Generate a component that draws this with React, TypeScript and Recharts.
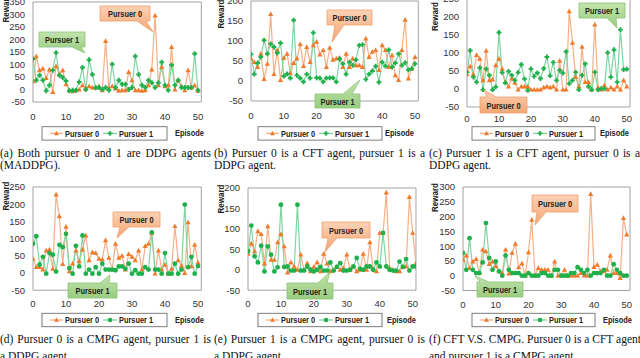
import React from "react";
import { LineChart, Line, XAxis, YAxis, ReferenceArea } from "recharts";

// episodes on the x axis (panel e runs one step longer)
const EPISODES = [
  0, 1, 2, 3, 4, 5, 6, 7, 8, 9, 10, 11, 12, 13, 14, 15, 16, 17, 18, 19, 20, 21, 22, 23, 24, 25,
  26, 27, 28, 29, 30, 31, 32, 33, 34, 35, 36, 37, 38, 39, 40, 41, 42, 43, 44, 45, 46, 47, 48, 49, 50, 51,
];
const X_TICKS = [0, 10, 20, 30, 40, 50];

// (a) DDPG vs DDPG
const A_P0 = [33, 133, 77, 84, 46, 80, -10, 93, 61, 77, 21, -3, -7, -3, 0, 17, 4, 13, 8, 8, 13, -3, 194, 4, 13, 4, -5, -3, -3, 70, 37, -3, -3, -5, -3, 17, 80, 296, 17, 90, 13, 17, 170, 0, 37, 13, -3, 77, 8, 17, -5];
const A_P1 = [122, 37, 57, 37, -5, 17, 77, 147, 57, 48, 34, -5, -3, -3, 30, 88, 0, 119, 60, 7, 8, 0, 8, -3, 101, 8, 37, 21, 21, 0, 8, 133, 60, 17, 8, 37, 27, 8, 27, 109, 17, -3, 98, 17, 37, 8, 8, 8, 8, 143, -3];
const A_YTICKS = [-50, 0, 50, 100, 150, 200, 250, 300, 350];

// (b) CFT vs DDPG
const B_P0 = [56, 47, 35, 68, 5, 43, 167, 17, 77, 2, 58, 68, 20, 45, 56, 92, 37, 85, 47, 89, 98, 66, 77, 35, 83, 53, 56, 58, 35, 68, 35, 56, 39, 39, 35, 106, 60, 73, 77, 27, 89, 77, 35, 64, 14, 2, 77, 153, 6, 31, 60];
const B_P1 = [67, 17, 45, 60, 102, 68, 93, 85, 70, 95, 12, 18, 7, 152, 14, 7, -2, 17, 7, 121, 8, 7, -2, 7, 8, 8, -2, 55, 43, 17, 47, 39, 53, 89, 91, 4, 17, 25, 37, -3, 47, 37, 78, 35, 45, 68, 39, 46, 28, 31, 43];
const B_YTICKS = [-50, 0, 50, 100, 150, 200];

// (c) DDPG vs CFT
const C_P0 = [41, 63, 41, 94, 84, 24, 106, 24, 26, 66, 84, 56, 19, 7, 29, 17, -2, 7, 7, 7, -2, -2, -2, -2, 4, 7, 4, 7, -2, 78, -2, -2, 216, 128, 33, 7, 117, 19, 19, -2, 179, 4, -2, 10, -2, 4, -2, 7, -2, 24, 7];
const C_P1 = [47, 107, 33, 19, 59, -2, 56, 38, -2, 6, 157, 46, 17, 49, 38, 24, 46, 68, 28, -4, 56, 35, 45, 29, 57, 89, 37, 74, 24, 52, 44, 104, 15, 24, 47, -2, 38, 70, 7, -2, 47, -2, 1, 1, 101, 33, 109, 19, 165, 54, 55];
const C_YTICKS = [-50, 0, 50, 100, 150, 200, 250];

// (d) CMPG vs DDPG
const D_P0 = [41, 17, 17, 10, 65, 68, 12, 228, 165, 26, 134, 5, 27, 65, 34, 68, 109, 37, 60, 58, 41, 39, 95, 44, 10, 85, 44, 50, 10, 55, 47, 37, 65, 10, 78, 85, 116, -2, 65, 10, 24, -2, 12, 136, 37, 21, 0, 147, 19, 82, 30];
const D_P1 = [85, 107, 24, 47, -2, 58, 53, 4, 82, 75, 114, 14, -2, 79, 19, 109, -2, 10, -2, 17, -2, 27, 10, 10, 10, 8, 19, 19, 12, 27, -2, 8, -2, -2, 17, 10, 118, 10, 10, -2, 58, -2, -2, 27, -2, 10, 199, 17, 47, -2, 20];
const D_YTICKS = [-50, 0, 50, 100, 150, 200, 250];

// (e) DDPG vs CMPG
const E_P0 = [39, 64, 45, 94, 87, 15, 106, 24, 24, 67, 87, 57, -7, 18, 8, 0, 37, 0, 16, -4, 7, 18, -4, 39, 15, -4, 0, 8, 0, 4, 37, 0, 8, -4, 0, 39, 0, 67, 2, -4, 90, 90, 189, 4, 0, -4, -4, 7, 8, 178, 90, 16];
const E_P1 = [45, 108, 33, 18, 59, -4, 57, 37, -4, 6, 159, 7, 8, -2, -2, 159, -2, -2, 8, 0, -4, 0, 7, -2, -2, 18, -2, 7, 16, -2, -2, 0, 8, 29, 2, 0, 8, 8, 0, 18, 8, 90, 8, 0, -2, -2, 20, 7, 26, -2, 8, 8];
const E_YTICKS = [-50, 0, 50, 100, 150, 200];

// (f) CFT vs CMPG
const F_P0 = [54, 68, 26, 48, 56, 9, 88, 82, 39, 48, 32, 15, 9, 88, 7, 77, 108, 28, 41, 0, 79, 189, 0, 26, 20, 20, 20, 0, 48, 0, 0, 20, 0, 0, 0, 0, 9, 0, 0, 276, 29, 37, 15, 15, 20, 68, 9, 9, -8, 195, 139];
const F_P1 = [77, 20, 127, 20, 9, 9, 45, 178, 60, 20, 48, 15, 0, 68, 20, 9, 9, 9, 0, 0, 9, 0, 0, 0, 9, 9, 0, 0, 20, 20, 0, 0, 0, 9, 9, 29, 20, 9, 20, 0, 9, 9, 9, 20, 0, 0, 39, 20, 9, 0, 0];
const F_YTICKS = [-50, 0, 50, 100, 150, 200, 250, 300];

const ORANGE = "#f07b2c";
const ORANGE_LINE = "#f6b088";
const GREEN = "#1fb04c";
const GREEN_LINE = "#80d6a2";
const SANS = "'Liberation Sans', Arial, sans-serif";
const SERIF = "'Liberation Serif', 'Times New Roman', serif";
const TICK = { fontFamily: SANS, fontSize: 9.5, fill: "#333" };

const triDot = (props: any) => {
  const { cx, cy, index } = props;
  if (cx == null || cy == null) return <g key={`t${index}`} />;
  return (
    <path
      key={`t${index}`}
      d={`M${cx},${cy - 2.8} L${cx + 2.6},${cy + 1.9} L${cx - 2.6},${cy + 1.9} Z`}
      fill={ORANGE}
    />
  );
};

const makeGreenDot = (kind: "plus" | "circle") => (props: any) => {
  const { cx, cy, index } = props;
  if (cx == null || cy == null) return <g key={`g${index}`} />;
  if (kind === "circle") return <circle key={`g${index}`} cx={cx} cy={cy} r={2.4} fill={GREEN} />;
  return (
    <path
      key={`g${index}`}
      d={`M${cx - 2.4},${cy} H${cx + 2.4} M${cx},${cy - 2.4} V${cy + 2.4}`}
      stroke={GREEN}
      strokeWidth={1.9}
    />
  );
};

type Spec = {
  px: number; py: number; pw: number; ph: number;
  p0: number[]; p1: number[]; yTicks: number[];
  marker: "plus" | "circle"; tickGap: number;
};

const PANELS: Spec[] = [
  { px: 33, py: 1.5, pw: 168.3, ph: 100, p0: A_P0, p1: A_P1, yTicks: A_YTICKS, marker: "plus", tickGap: 5 },
  { px: 251, py: 0.7, pw: 167.3, ph: 100, p0: B_P0, p1: B_P1, yTicks: B_YTICKS, marker: "plus", tickGap: 5 },
  { px: 467, py: -1.3, pw: 163, ph: 108, p0: C_P0, p1: C_P1, yTicks: C_YTICKS, marker: "plus", tickGap: 2.5 },
  { px: 33, py: 187.3, pw: 168.3, ph: 103.2, p0: D_P0, p1: D_P1, yTicks: D_YTICKS, marker: "circle", tickGap: 4.5 },
  { px: 248, py: 188.3, pw: 168, ph: 102.2, p0: E_P0, p1: E_P1, yTicks: E_YTICKS, marker: "circle", tickGap: 4.5 },
  { px: 463, py: 187.3, pw: 167, ph: 103.5, p0: F_P0, p1: F_P1, yTicks: F_YTICKS, marker: "circle", tickGap: 4.5 },
];

function Panel({ s }: { s: Spec }) {
  const ML = 40, MT = 10, MR = 6, XH = 24;
  const yMin = s.yTicks[0];
  const yMax = s.yTicks[s.yTicks.length - 1];
  const data = s.p0.map((v, i) => ({ ep: EPISODES[i], p0: v, p1: s.p1[i] }));
  return (
    <div style={{ position: "absolute", left: s.px - ML, top: s.py - MT }}>
      <LineChart
        width={s.pw + ML + MR}
        height={s.ph + MT + XH}
        data={data}
        margin={{ top: MT, right: MR, bottom: 0, left: 0 }}
      >
        <XAxis
          type="number"
          dataKey="ep"
          domain={[0, 51]}
          ticks={X_TICKS}
          interval={0}
          axisLine={false}
          tickLine={false}
          tick={TICK}
          tickMargin={s.tickGap}
          height={XH}
          allowDataOverflow
        />
        <YAxis
          type="number"
          domain={[yMin, yMax]}
          ticks={s.yTicks}
          interval={0}
          width={ML}
          axisLine={false}
          tickLine={false}
          tick={TICK}
          allowDataOverflow
        />
        <ReferenceArea x1={0} x2={51} y1={yMin} y2={yMax} fill="none" stroke="#a3a3a3" strokeWidth={1} ifOverflow="visible" />
        <Line dataKey="p0" stroke={ORANGE_LINE} strokeWidth={1.2} dot={triDot} isAnimationActive={false} />
        <Line dataKey="p1" stroke={GREEN_LINE} strokeWidth={1.2} dot={makeGreenDot(s.marker)} isAnimationActive={false} />
      </LineChart>
    </div>
  );
}

// callout boxes: rect, wedge base on a side, tip point
type Callout = { x: number; y: number; w: number; h: number; side: "top" | "bottom"; b1: number; b2: number; tx: number; ty: number; who: 0 | 1 };
const CALLOUTS: Callout[] = [
  { x: 100, y: 6, w: 50, h: 15, side: "bottom", b1: 137, b2: 146, tx: 153, ty: 32, who: 0 },
  { x: 39, y: 32, w: 46, h: 15, side: "bottom", b1: 72, b2: 81, tx: 85, ty: 53, who: 1 },
  { x: 327, y: 10, w: 45, h: 15, side: "bottom", b1: 335, b2: 344, tx: 332, ty: 42, who: 0 },
  { x: 315, y: 94, w: 45, h: 14, side: "top", b1: 343, b2: 352, tx: 360, ty: 80, who: 1 },
  { x: 579, y: 3, w: 46, h: 15, side: "bottom", b1: 607, b2: 616, tx: 617, ty: 28, who: 1 },
  { x: 480, y: 97, w: 47, h: 16, side: "top", b1: 487, b2: 496, tx: 484, ty: 90, who: 0 },
  { x: 113, y: 212, w: 47, h: 15, side: "bottom", b1: 120, b2: 129, tx: 117, ty: 238, who: 0 },
  { x: 68, y: 283, w: 49, h: 15, side: "top", b1: 100, b2: 109, tx: 110, ty: 275, who: 1 },
  { x: 322, y: 222, w: 48, h: 16, side: "bottom", b1: 328, b2: 337, tx: 325, ty: 252, who: 0 },
  { x: 287, y: 283, w: 46, h: 16, side: "top", b1: 318, b2: 327, tx: 330, ty: 272, who: 1 },
  { x: 532, y: 195, w: 46, h: 17, side: "bottom", b1: 537, b2: 546, tx: 535, ty: 225, who: 0 },
  { x: 477, y: 282, w: 46, h: 15, side: "top", b1: 480, b2: 489, tx: 475, ty: 276, who: 1 },
];

const calloutPath = (c: Callout) => {
  const r = c.x + c.w, b = c.y + c.h;
  if (c.side === "bottom")
    return `M${c.x},${c.y} L${r},${c.y} L${r},${b} L${c.b2},${b} L${c.tx},${c.ty} L${c.b1},${b} L${c.x},${b} Z`;
  return `M${c.x},${c.y} L${c.b1},${c.y} L${c.tx},${c.ty} L${c.b2},${c.y} L${r},${c.y} L${r},${b} L${c.x},${b} Z`;
};

const REWARD_LABELS = [
  { x: 6, y: 8 }, { x: 220.5, y: 14 }, { x: 434.5, y: 16.5 },
  { x: 5.5, y: 196 }, { x: 220.5, y: 199 }, { x: 435, y: 197.5 },
];

const LEGENDS = [
  { x: 42, y: 126.7, w: 125, ep: 175, marker: "plus" },
  { x: 258, y: 126.7, w: 124, ep: 385, marker: "plus" },
  { x: 472, y: 126.7, w: 123, ep: 600, marker: "plus" },
  { x: 42, y: 313.3, w: 125, ep: 175, marker: "circle" },
  { x: 258, y: 313.3, w: 124, ep: 387, marker: "circle" },
  { x: 472, y: 313.3, w: 123, ep: 603, marker: "circle" },
];

const CAPTIONS = [
  { x: 0, y: 147, l1: "(a) Both pursuer 0 and 1 are DDPG agents", l2: "(MADDPG)." },
  { x: 214, y: 147, l1: "(b) Pursuer 0 is a CFT agent, pursuer 1 is a", l2: "DDPG agent." },
  { x: 429, y: 147, l1: "(c) Pursuer 1 is a CFT agent, pursuer 0 is a", l2: "DDPG agent." },
  { x: 0, y: 332.5, l1: "(d) Pursuer 0 is a CMPG agent, pursuer 1 is", l2: "a DDPG agent." },
  { x: 214, y: 332.5, l1: "(e) Pursuer 1 is a CMPG agent, pursuer 0 is", l2: "a DDPG agent." },
  { x: 429, y: 332.5, l1: "(f) CFT V.S. CMPG. Pursuer 0 is a CFT agent", l2: "and pursuer 1 is a CMPG agent." },
];

const LABEL_FONT = { fontFamily: SANS, fontSize: 9, fontWeight: 700, fill: "#222" };

function Overlay() {
  return (
    <svg width={640} height={358} style={{ position: "absolute", left: 0, top: 0, pointerEvents: "none" }}>
      <defs>
        <linearGradient id="gOr" x1="0" y1="0" x2="0" y2="1">
          <stop offset="0" stopColor="#fbd2b6" />
          <stop offset="1" stopColor="#f5a673" />
        </linearGradient>
        <linearGradient id="gGr" x1="0" y1="0" x2="0" y2="1">
          <stop offset="0" stopColor="#c3e3ad" />
          <stop offset="1" stopColor="#98cd7f" />
        </linearGradient>
      </defs>
      {REWARD_LABELS.map((r, i) => (
        <text key={i} x={r.x - 14.5} y={r.y} transform={`rotate(-90 ${r.x} ${r.y})`} dominantBaseline="central" textLength={29} lengthAdjust="spacingAndGlyphs" style={LABEL_FONT}>
          Reward
        </text>
      ))}
      {CALLOUTS.map((c, i) => (
        <g key={i}>
          <path d={calloutPath(c)} fill={c.who === 0 ? "url(#gOr)" : "url(#gGr)"} stroke={c.who === 0 ? "#f2a06b" : "#8cc474"} strokeWidth={0.8} />
          <text x={c.x + c.w / 2 - 17} y={c.y + c.h / 2 + 0.5} dominantBaseline="central" textLength={34} lengthAdjust="spacingAndGlyphs" style={LABEL_FONT}>
            {`Pursuer ${c.who}`}
          </text>
        </g>
      ))}
      {LEGENDS.map((l, i) => {
        const cy = l.y + 6.7;
        const g1 = l.x + 61;
        return (
          <g key={i}>
            <rect x={l.x} y={l.y} width={l.w} height={13.4} fill="#fff" stroke="#6e6e6e" strokeWidth={0.9} />
            <line x1={l.x + 8} x2={l.x + 21} y1={cy} y2={cy} stroke={ORANGE_LINE} strokeWidth={1.3} />
            <path d={`M${l.x + 14.5},${cy - 2.6} L${l.x + 17},${cy + 1.8} L${l.x + 12},${cy + 1.8} Z`} fill={ORANGE} />
            <text x={l.x + 23} y={cy + 0.3} dominantBaseline="central" textLength={34} lengthAdjust="spacingAndGlyphs" style={LABEL_FONT}>Pursuer 0</text>
            <line x1={g1} x2={g1 + 14} y1={cy} y2={cy} stroke={GREEN_LINE} strokeWidth={1.3} />
            {l.marker === "circle" ? (
              <circle cx={g1 + 7} cy={cy} r={2.3} fill={GREEN} />
            ) : (
              <path d={`M${g1 + 4.6},${cy} H${g1 + 9.4} M${g1 + 7},${cy - 2.4} V${cy + 2.4}`} stroke={GREEN} strokeWidth={1.7} />
            )}
            <text x={g1 + 16} y={cy + 0.3} dominantBaseline="central" textLength={34} lengthAdjust="spacingAndGlyphs" style={LABEL_FONT}>Pursuer 1</text>
            <text x={l.ep} y={cy} dominantBaseline="central" textLength={29} lengthAdjust="spacingAndGlyphs" style={LABEL_FONT}>Episode</text>
          </g>
        );
      })}
    </svg>
  );
}

export default function App() {
  return (
    <div style={{ position: "absolute", left: 0, top: 0, width: 640, height: 358, overflow: "hidden", background: "#fff" }}>
      {PANELS.map((s, i) => (
        <Panel key={i} s={s} />
      ))}
      <Overlay />
      {CAPTIONS.map((c, i) => (
        <div key={i} style={{ position: "absolute", left: c.x, top: c.y, width: 211, fontFamily: SERIF, fontSize: 11.5, lineHeight: "12px", color: "#111" }}>
          <div style={{ textAlign: "justify", textAlignLast: "justify", whiteSpace: "nowrap" as any }}>{c.l1}</div>
          <div style={{ marginTop: i < 3 ? 0 : 5 }}>{c.l2}</div>
        </div>
      ))}
    </div>
  );
}
